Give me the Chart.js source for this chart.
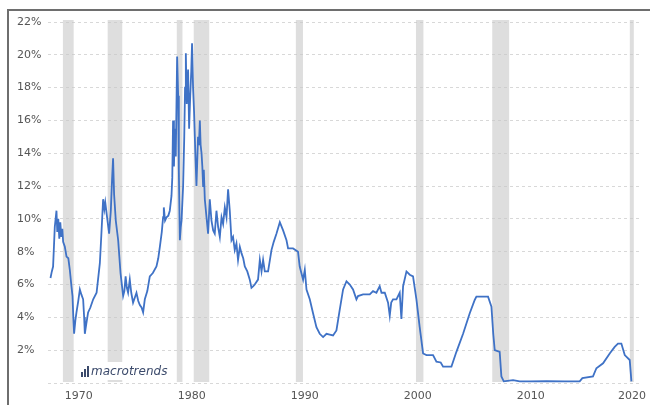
<!DOCTYPE html>
<html>
<head>
<meta charset="utf-8">
<style>
  html, body { margin: 0; padding: 0; background: #fff; }
  #wrap { position: relative; width: 650px; height: 405px; }
  canvas { display: block; }
</style>
<script src="https://cdn.jsdelivr.net/npm/chart.js@4/dist/chart.umd.min.js"></script>
</head>
<body>
<div id="wrap"><canvas id="c" width="650" height="405"></canvas></div>
<script>
// Effective federal funds rate (%), sampled at decimal years
const years = [
  1968.82, 1968.94, 1969.05, 1969.20, 1969.35, 1969.42, 1969.51, 1969.60, 1969.69, 1969.78,
  1969.87, 1969.94, 1970.09, 1970.24, 1970.40, 1970.53, 1970.66, 1970.77, 1970.84, 1970.91,
  1971.02, 1971.12, 1971.28, 1971.42, 1971.55, 1971.71, 1971.80, 1971.86, 1971.99, 1972.15,
  1972.35, 1972.60, 1972.90, 1973.06, 1973.19, 1973.32, 1973.48, 1973.59, 1973.67, 1973.83,
  1974.01, 1974.16, 1974.27, 1974.36, 1974.45, 1974.60, 1974.81, 1975.02, 1975.25, 1975.36,
  1975.47, 1975.58, 1975.69, 1975.84, 1975.97, 1976.13, 1976.28, 1976.43, 1976.59, 1976.73,
  1976.88, 1977.02, 1977.17, 1977.39, 1977.61, 1977.88, 1978.20, 1978.36, 1978.50, 1978.67,
  1978.79, 1978.85, 1978.96, 1979.09, 1979.25, 1979.38, 1979.53, 1979.60, 1979.67, 1979.75,
  1979.82, 1979.91, 1980.03, 1980.12, 1980.18, 1980.27, 1980.35, 1980.42, 1980.56, 1980.66,
  1980.73, 1980.80, 1980.88, 1981.00, 1981.09, 1981.19, 1981.28, 1981.35, 1981.44, 1981.53,
  1981.64, 1981.74, 1981.81, 1981.88, 1981.96, 1982.04, 1982.11, 1982.19, 1982.26, 1982.33,
  1982.39, 1982.48, 1982.63, 1982.77, 1982.92, 1983.07, 1983.22, 1983.36, 1983.51, 1983.66,
  1983.81, 1983.96, 1984.10, 1984.25, 1984.40, 1984.54, 1984.69, 1984.84, 1984.98, 1985.13,
  1985.28, 1985.42, 1985.58, 1985.73, 1985.88, 1986.02, 1986.24, 1986.46, 1986.61, 1986.77,
  1986.90, 1987.19, 1987.35, 1987.50, 1987.64, 1987.79, 1988.08, 1988.38, 1988.58, 1988.82,
  1989.12, 1989.41, 1989.71, 1989.85, 1990.29, 1990.73, 1990.88, 1991.18, 1991.33, 1991.48,
  1991.77, 1992.06, 1992.36, 1992.65, 1992.95, 1993.25, 1993.54, 1993.83, 1994.13, 1994.42,
  1994.72, 1995.02, 1995.31, 1995.60, 1995.90, 1996.04, 1996.49, 1997.08, 1997.37, 1997.67,
  1997.96, 1998.12, 1998.41, 1998.70, 1998.85, 1998.98, 1999.14, 1999.44, 1999.73, 1999.88,
  2000.03, 2000.33, 2000.62, 2000.91, 2001.21, 2001.50, 2001.80, 2002.10, 2002.68, 2002.98,
  2003.36, 2003.57, 2004.31, 2004.75, 2005.34, 2005.93, 2006.37, 2006.52, 2007.55, 2007.85,
  2008.01, 2008.14, 2008.58, 2008.73, 2008.94, 2009.76, 2010.35, 2011.24, 2012.72, 2014.34,
  2015.66, 2015.90, 2016.84, 2017.14, 2017.73, 2018.32, 2018.76, 2019.05, 2019.35, 2019.65,
  2020.09, 2020.24
];
const rates = [
  6.4, 6.8, 7.1, 9.5, 10.5, 9.2, 10.0, 8.8, 9.8, 8.9,
  9.4, 8.6, 8.3, 7.7, 7.6, 6.9, 6.0, 5.3, 4.0, 3.0,
  3.8, 4.3, 5.0, 5.7, 5.4, 5.1, 4.0, 3.0, 3.6, 4.3,
  4.6, 5.1, 5.5, 6.5, 7.3, 9.0, 11.2, 10.6, 11.0, 10.1,
  9.1, 10.5, 12.4, 13.7, 11.5, 9.9, 8.7, 6.7, 5.3, 5.6,
  6.5, 5.8, 5.5, 6.3, 5.5, 4.9, 5.2, 5.5, 5.0, 4.75,
  4.6, 4.3, 5.1, 5.6, 6.5, 6.7, 7.1, 7.6, 8.3, 9.2,
  10.1, 10.7, 9.9, 10.1, 10.2, 10.5, 11.4, 12.5, 16.0, 13.2,
  15.5, 13.8, 19.9, 17.5, 13.0, 8.7, 9.5, 9.9, 12.0, 15.0,
  18.0, 20.1, 17.0, 19.1, 15.5, 17.5, 19.0, 20.7, 18.0, 16.5,
  14.0, 12.0, 13.5, 15.0, 14.5, 16.0, 14.5, 14.0, 13.2, 12.0,
  13.0, 11.2, 10.1, 9.1, 11.2, 9.9, 9.3, 9.1, 10.5, 9.5,
  8.9, 10.1, 9.7, 10.7, 10.1, 11.8, 10.5, 8.7, 8.9, 8.1,
  8.5, 7.5, 8.3, 7.9, 7.6, 7.1, 6.8, 6.3, 5.8, 5.9,
  6.0, 6.3, 7.5, 6.8, 7.5, 6.8, 6.8, 8.1, 8.6, 9.1,
  9.8, 9.3, 8.7, 8.2, 8.2, 8.0, 7.1, 6.3, 6.9, 5.7,
  5.1, 4.25, 3.4, 3.0, 2.8, 3.0, 2.95, 2.9, 3.2, 4.45,
  5.7, 6.2, 6.0, 5.7, 5.1, 5.3, 5.4, 5.4, 5.6, 5.5,
  5.9, 5.5, 5.5, 4.9, 4.1, 4.9, 5.1, 5.1, 5.5, 3.9,
  5.9, 6.8, 6.6, 6.5, 5.1, 3.4, 1.8, 1.7, 1.7, 1.3,
  1.25, 1.0, 1.0, 1.9, 3.0, 4.25, 5.06, 5.26, 5.26, 4.65,
  3.0, 2.0, 1.9, 0.4, 0.1, 0.18, 0.1, 0.1, 0.12, 0.1,
  0.1, 0.3, 0.4, 0.9, 1.2, 1.8, 2.2, 2.4, 2.4, 1.7,
  1.4, 0.1
];

// US recessions (decimal years), shaded behind the series
const recessionStart = [1969.92, 1973.88, 1980.00, 1981.50, 1990.54, 2001.17, 2007.92, 2020.10];
const recessionEnd   = [1970.87, 1975.17, 1980.50, 1982.87, 1991.17, 2001.83, 2009.42, 2020.40];

// Axis ticks
const xTickYears = [1970, 1980, 1990, 2000, 2010, 2020];
const yTickStep = 2;
const yMax = 22;

const points = years.map((x, i) => ({ x, y: rates[i] }));

const tickFont = '11px "DejaVu Sans", sans-serif';
const tickColor = '#555';

const recessionBands = {
  id: 'recessionBands',
  beforeDatasetsDraw(chart) {
    const { ctx, chartArea, scales } = chart;
    ctx.save();
    ctx.fillStyle = 'rgba(200,200,200,0.6)';
    recessionStart.forEach((s, i) => {
      const x0 = scales.x.getPixelForValue(s);
      const x1 = scales.x.getPixelForValue(recessionEnd[i]);
      ctx.fillRect(x0, chartArea.top - 2, Math.max(x1 - x0, 4), chartArea.bottom - chartArea.top + 1);
    });
    ctx.restore();
  },
  afterDatasetsDraw(chart) {
    const { ctx, chartArea, scales } = chart;
    ctx.save();
    // logo block in the lower left corner
    const lx = chartArea.left + 30, ly = chartArea.bottom - 21;
    ctx.fillStyle = '#fff';
    ctx.fillRect(lx, ly, 90, 18);
    ctx.fillStyle = '#3b4a6b';
    ctx.fillRect(lx + 3, ly + 10, 2, 5);
    ctx.fillRect(lx + 6, ly + 7, 2, 8);
    ctx.fillRect(lx + 9, ly + 4, 2, 11);
    ctx.font = 'italic 12px "DejaVu Sans", sans-serif';
    ctx.textBaseline = 'middle';
    ctx.textAlign = 'left';
    ctx.fillText('macrotrends', lx + 13, ly + 10);

    // year labels beneath the plot, kept inside the canvas
    ctx.font = tickFont;
    ctx.fillStyle = tickColor;
    ctx.textBaseline = 'middle';
    xTickYears.forEach(yr => {
      const label = String(yr);
      const w = ctx.measureText(label).width;
      let left = scales.x.getPixelForValue(yr) + 15 - w / 2;
      if (left + w > chart.width - 4) left = chart.width - 4 - w;
      ctx.fillText(label, left, chartArea.bottom + 13);
    });

    // frame on the top and left edges
    ctx.strokeStyle = '#6e6e6e';
    ctx.lineWidth = 2;
    ctx.beginPath();
    ctx.moveTo(8, chart.height);
    ctx.lineTo(8, 10);
    ctx.lineTo(chart.width, 10);
    ctx.stroke();
    ctx.restore();
  }
};

new Chart(document.getElementById('c'), {
  type: 'line',
  data: {
    datasets: [{
      data: points,
      borderColor: '#3f72c6',
      borderWidth: 1.8,
      pointRadius: 0,
      tension: 0,
      fill: false
    }]
  },
  options: {
    responsive: false,
    animation: false,
    events: [],
    layout: { padding: { left: 17, top: 22, right: 10, bottom: 0 } },
    plugins: { legend: { display: false }, tooltip: { enabled: false } },
    scales: {
      x: {
        type: 'linear',
        min: 1968.6,
        max: 2021.0,
        grid: { display: false },
        border: { display: false },
        ticks: { display: false },
        afterFit(s) { s.height = 22; s.paddingLeft = 0; s.paddingRight = 0; }
      },
      y: {
        min: 0,
        max: yMax,
        grid: { color: '#d8d8d8', lineWidth: 1, drawTicks: false },
        border: { display: false, dash: [3, 3] },
        ticks: {
          stepSize: yTickStep,
          crossAlign: 'far',
          padding: 0,
          color: tickColor,
          font: { family: '"DejaVu Sans", sans-serif', size: 11 },
          callback: v => (v === 0 ? '' : v + '%')
        },
        afterFit(s) { s.width = 31; s.paddingTop = 0; s.paddingBottom = 0; }
      }
    }
  },
  plugins: [recessionBands]
});
</script>
</body>
</html>
